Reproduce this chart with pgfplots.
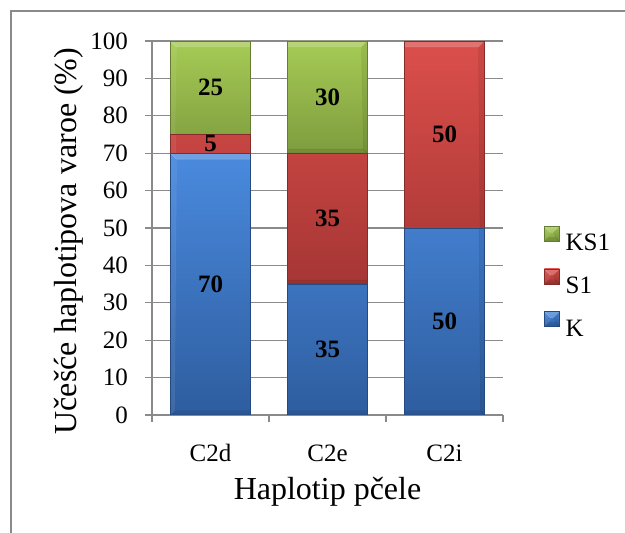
\documentclass[border=0pt]{standalone}
\usepackage{pgfplots}
\pgfplotsset{compat=1.18}
\usepackage{pgfplotstable}
\usepackage{fontspec}
\setmainfont{Liberation Serif}
\newcommand\fA{\fontsize{25pt}{30pt}\selectfont}
\newcommand\fL{\fontsize{32pt}{38pt}\selectfont}
\definecolor{gridc}{HTML}{8A8A8A}
\definecolor{kTop}{HTML}{4A8ADE}
\definecolor{kBot}{HTML}{2E5D9F}
\definecolor{sTop}{HTML}{DB4F4B}
\definecolor{sBot}{HTML}{A63634}
\definecolor{gTop}{HTML}{A6CB55}
\definecolor{gBot}{HTML}{7E9C3E}
\tikzset{nopp/.style={path picture={}},
bevel/.style={path picture={
  \fill[nopp,white,opacity=0.28] (path picture bounding box.north west) -- (path picture bounding box.north east)
     -- ([xshift=-6pt,yshift=-6pt]path picture bounding box.north east) -- ([xshift=6pt,yshift=-6pt]path picture bounding box.north west) -- cycle;
  \fill[nopp,black,opacity=0.12] (path picture bounding box.south west) -- (path picture bounding box.south east)
     -- ([xshift=-4pt,yshift=4pt]path picture bounding box.south east) -- ([xshift=4pt,yshift=4pt]path picture bounding box.south west) -- cycle;
  \fill[nopp,white,opacity=0.08] (path picture bounding box.north west) -- ([xshift=6pt,yshift=-6pt]path picture bounding box.north west)
     -- ([xshift=4pt,yshift=4pt]path picture bounding box.south west) -- (path picture bounding box.south west) -- cycle;
  \fill[nopp,black,opacity=0.08] (path picture bounding box.north east) -- ([xshift=-6pt,yshift=-6pt]path picture bounding box.north east)
     -- ([xshift=-4pt,yshift=4pt]path picture bounding box.south east) -- (path picture bounding box.south east) -- cycle;
}}}

\pgfplotstableread{
x K S1
0 70 5
1 35 35
2 50 50
}\bars
\pgfplotstableread{
x KS1
0 25
1 30
}\barsks
\pgfplotstableread{
x y lab
0 35 70
1 17.5 35
2 25 50
0 72.5 5
1 52.5 35
2 75 50
0 87.5 25
1 85 30
}\labels

\begin{document}
\begin{tikzpicture}
\useasboundingbox (0,0) rectangle (625pt,533pt);
\draw[gridc, line width=1.5pt] (11pt,0) -- (11pt,522pt) -- (626pt,522pt);
\begin{axis}[
  at={(152pt,118pt)}, anchor=south west,
  scale only axis, width=351pt, height=374pt,
  ybar stacked, bar width=80pt,
  xmin=-0.5, xmax=2.5, ymin=0, ymax=100,
  xtick={0,1,2}, xticklabels={C2d,C2e,C2i},
  ytick={0,10,...,100},
  minor xtick={-0.5,0.5,1.5,2.5},
  major x tick style={draw=none},
  tick align=outside,
  major tick length=7pt, minor tick length=7pt,
  tick style={gridc, line width=1.2pt},
  axis x line*=bottom, axis y line*=left,
  axis line style={gridc, line width=1.2pt, -},
  ymajorgrids,
  grid style={gridc, line width=1.2pt},
  /pgf/number format/assume math mode=true,
  ticklabel style={font=\fA},
  yticklabel style={anchor=east, inner sep=0pt, xshift=-17pt},
  xticklabel style={anchor=base, inner sep=0pt, yshift=-40pt},
  xlabel={Haplotip pčele},
  xlabel style={font=\fL, anchor=base, at={(axis description cs:0.5,-0.227)}},
  ylabel={Učešće haplotipova varoe (\%)},
  ylabel style={font=\fL, anchor=center, at={(axis description cs:-0.237,0.465)}},
  legend style={at={(1.117,0.358)}, anchor=west, draw=none, fill=none,
    font=\fA, inner sep=0pt, column sep=6pt, row sep=18pt,
    nodes={inner sep=0pt, text height=17pt, text depth=0pt}},
  legend cell align=left,
  reverse legend,
  legend image code/.code={\draw[#1] (0pt,1pt) rectangle (15pt,16pt);},
]
\addplot[draw=kBot!80!black, line width=0.4pt, top color=kTop, bottom color=kBot, bevel] table[x=x,y=K]{\bars};
\addlegendentry{K}
\addplot[draw=sBot!80!black, line width=0.4pt, top color=sTop, bottom color=sBot, bevel] table[x=x,y=S1]{\bars};
\addlegendentry{S1}
\addplot[draw=gBot!80!black, line width=0.4pt, top color=gTop, bottom color=gBot, bevel] table[x=x,y=KS1]{\barsks};
\addlegendentry{KS1}
\end{axis}
\begin{axis}[
  at={(152pt,118pt)}, anchor=south west,
  scale only axis, width=351pt, height=374pt,
  xmin=-0.5, xmax=2.5, ymin=0, ymax=100,
  hide axis,
]
\addplot[draw=none, mark=none, nodes near coords, point meta=explicit symbolic,
  every node near coord/.style={anchor=center, font=\fA\bfseries, text=black}]
  table[x=x, y=y, meta=lab]{\labels};
\end{axis}
\end{tikzpicture}
\end{document}
